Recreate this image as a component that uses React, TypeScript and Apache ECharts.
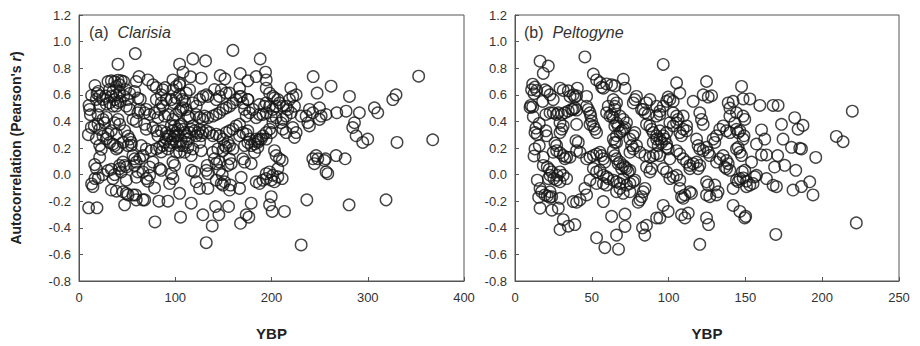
import React, { useEffect, useRef } from "react";
import * as echarts from "echarts";

// Panel (a) Clarisia: [YBP, Pearson's r]
const clarisiaPoints: number[][] = [
  [10,-0.25],[18.7,-0.25],[13.1,-0.07],[14.5,-0.09],[16.6,-0.03],[18,0.045],[16.3,0.075],[11.1,0.49],[11.8,0.45],[10.4,0.52],[9.7,0.30],[12.8,0.355],[15.9,0.365],[19.7,0.38],[21.5,0.34],[18,0.27],[21.5,0.22],[23.2,0.19],[21.5,0.13],[24.9,0.0],[20.1,-0.025],[16.6,0.67],[13.1,0.595],[18.7,0.61],[21.5,0.59],[20.1,0.625],[18,0.565],[24.9,0.565],[28.4,0.53],[27.7,0.59],[21.5,0.515],[19.7,0.45],[24.9,0.415],[28.4,0.43],[26.6,0.39],[30.1,0.305],[28.4,0.27],[31.8,0.24],[24.9,0.29],
  [30.1,0.70],[33.6,0.705],[37,0.70],[40.5,0.71],[43.9,0.705],[46.4,0.70],[42.2,0.675],[38.8,0.663],[31.8,0.64],[35.3,0.625],[38.8,0.60],[42.2,0.613],[33.6,0.588],[37,0.564],[40.5,0.54],[35.3,0.515],[31.8,0.54],[38.8,0.515],[42.9,0.55],[46.4,0.59],[50.9,0.565],[48.4,0.64],[52.6,0.61],[58.5,0.91],[40.5,0.83],[59.5,0.70],[62.3,0.737],[57.8,0.625],[61.2,0.575],[63.7,0.565],[49.1,0.515],[52.6,0.49],[37,0.39],[40.5,0.415],[42.2,0.378],[33.6,0.33],[38.8,0.305],[47.4,0.33],[50.9,0.29],[52.6,0.267],[37,0.218],[40.5,0.205],[38.8,0.193],[35.3,0.23],[45.7,0.242],[50.9,0.218],[54.3,0.242],[54.3,0.22],[56.1,0.143],[57.8,0.119],[42.2,0.045],[43.9,0.02],[37,0.0],[33.6,0.04],[30.1,0.03],[47.4,0.069],[49.1,0.057],[42.2,0.069],[45.7,0.094],[35.3,-0.03],[49.1,-0.042],[33.6,-0.116],[38.8,-0.125],[45.7,-0.129],[49.1,-0.141],[50.9,-0.153],[47.4,-0.227],[56.1,-0.153],[59.5,-0.19],[58.8,-0.153],[59.5,-0.02],[61.2,0.02],[57.8,0.069],[59.5,0.094],[56.1,0.415],[59.5,0.40],[61.2,0.465],[63,0.49],
  [66.4,-0.19],[68.2,-0.19],[78.9,-0.356],[83,-0.2],[92.4,-0.2],[78.5,-0.10],[69.9,-0.03],[71.6,-0.05],[73.4,-0.005],[85.5,0.032],[83.7,0.045],[66.4,0.02],[73.4,0.057],[76.8,0.094],[75.1,0.18],[66.4,0.143],[63,0.119],[64.7,0.218],[69.9,0.193],[80.3,0.193],[83.7,0.205],[87.2,0.218],[85.5,0.17],[88.9,0.242],[90.7,0.267],[92.4,0.292],[68.2,0.378],[69.9,0.341],[76.8,0.354],[80.3,0.329],[78.5,0.465],[73.4,0.452],[69.9,0.49],[68.2,0.465],[83.7,0.49],[87.2,0.514],[85.5,0.539],[82,0.428],[88.9,0.44],[92.4,0.452],[80.3,0.564],[85.5,0.60],[87.2,0.638],[71.6,0.712],[80.3,0.655],[76.8,0.675],[89.6,0.655],[90.7,0.564],[85.5,0.329],[82,0.292],
  [94.1,-0.067],[97.6,-0.03],[95.8,0.007],[97.6,0.094],[99.3,0.069],[104.5,-0.141],[105.5,-0.32],[116.6,-0.215],[128.7,-0.302],[132.2,-0.512],[133.9,-0.104],[132.2,0.032],[133.2,0.069],[133.9,0.007],[125.3,-0.104],[121.8,-0.054],[120.1,0.02],[116.6,0.032],[127,0.18],[116.6,0.143],[118.3,0.193],
  [92.4,0.193],[94.1,0.218],[95.8,0.242],[97.6,0.267],[99.3,0.292],[101,0.316],[102.8,0.341],[104.5,0.366],[106.2,0.378],[108,0.341],[109.7,0.316],[111.4,0.292],[97.6,0.329],[95.8,0.366],[99.3,0.366],[101,0.242],[104.5,0.218],[106.2,0.255],[108,0.218],[111.4,0.242],[113.1,0.267],[114.9,0.316],[116.6,0.341],[118.3,0.366],[120.1,0.329],[121.8,0.292],[123.5,0.316],[125.3,0.341],[113.1,0.205],[104.5,0.168],[109.7,0.168],[101,0.168],[94.1,0.292],[90.7,0.316],[102.8,0.292],
  [97.6,0.415],[101,0.452],[104.5,0.477],[106.2,0.49],[108,0.502],[95.8,0.564],[99.3,0.539],[101,0.576],[104.5,0.60],[107.3,0.564],[109.7,0.551],[97.6,0.638],[101,0.663],[104.5,0.688],[111.4,0.613],[114.9,0.638],[118.3,0.539],[121.8,0.514],[125.3,0.564],[128.7,0.588],[132.2,0.60],[111.4,0.49],[113.1,0.44],[114.9,0.428],[121.8,0.452],[125.3,0.428],[128.7,0.415],[130.4,0.44],[127,0.292],[128.7,0.316],[132.2,0.329],[125.3,0.242],
  [104.5,0.83],[108,0.77],[118.3,0.87],[131.5,0.855],[127,0.725],[115.9,0.735],[97.6,0.712],[104.5,0.675],
  [138.4,-0.386],[141.9,-0.24],[145.3,-0.302],[155.4,-0.24],[167.8,-0.366],[173.7,-0.302],[176.5,-0.32],[178.9,-0.215],[142.6,-0.042],[147.8,-0.067],[149.5,-0.079],[151.2,-0.054],[156.4,-0.116],[157.4,-0.079],[166.8,-0.104],[168.5,-0.02],[148.8,0.0],[146,0.032],[142.6,0.082],[146,0.094],[140.8,0.119],[156.4,0.119],[158.1,0.082],[154.7,0.069],[170.2,0.119],[172,0.094],[178.9,0.082],[139.1,0.168],[144.3,0.193],[149.5,0.18],[152.9,0.205],[156.4,0.218],[159.9,0.193],[146,0.292],[149.5,0.267],[152.9,0.316],[156.4,0.329],[159.9,0.341],[163.3,0.366],[166.8,0.378],[154.7,0.242],[151.2,0.218],[135.6,0.316],[139.1,0.292],[142.6,0.304],[133.9,0.428],[139.1,0.44],[142.6,0.452],[146,0.465],[149.5,0.49],[152.9,0.502],[156.4,0.514],[159.9,0.539],[163.3,0.564],[142.6,0.564],[146,0.588],[147.8,0.638],[152.9,0.613],[166.8,0.65],[168.5,0.588],[170.2,0.539],[172,0.49],[173.7,0.44],[175.4,0.564],[177.2,0.465],[180.6,0.49],[184.1,0.428],[187.5,0.452],[166.8,0.292],[170.2,0.316],[173.7,0.304],[175.4,0.329],[177.2,0.267],[172,0.218],[175.4,0.242],[178.9,0.218],[182.4,0.23],[185.8,0.255],[189.3,0.267],[182.4,0.168],[185.8,0.205],
  [159.9,0.934],[167.5,0.76],[146.7,0.745],[151.6,0.72],[175.4,0.705],[184.1,0.737],[156.4,0.613],[166.8,0.588],[175.4,0.564],[133.9,0.588],[140.8,0.64],
  [188.2,0.87],[193.8,0.77],[194.5,0.712],[194.5,0.65],[198,0.613],[201.4,0.588],[203.1,0.576],[206.6,0.564],[208.3,0.539],[211.8,0.514],[215.2,0.514],[217,0.49],[204.8,0.514],[201.4,0.49],[198,0.514],[194.5,0.539],[192.7,0.514],[187.5,0.527],[220.1,0.65],[225.6,0.60],[222.1,0.588],[218.7,0.564],[223.9,0.514],[220.4,0.465],[215.2,0.44],[211.8,0.415],[210,0.39],[222.1,0.354],[225.6,0.316],[223.9,0.28],[215.2,0.316],[211.8,0.341],[191,0.452],[194.5,0.465],[199.7,0.44],[204.8,0.428],[201.4,0.39],[198,0.341],[194.5,0.316],[191,0.292],[187.5,0.267],[194.5,0.267],[199.7,0.316],[184.1,0.267],[185.8,0.242],[203.1,0.18],[204.8,0.143],[208.3,0.119],[211.1,0.106],[206.6,0.045],[198,0.02],[194.5,0.007],[201.4,-0.005],[199.7,-0.042],[203.1,-0.054],[206.6,-0.017],[184.1,-0.054],[187.5,-0.067],[191,-0.042],[194.5,-0.03],[211.1,-0.03],[199.7,-0.166],[198,-0.227],[200.7,-0.277],[213.5,-0.277],[230.8,-0.529],
  [230.8,0.44],[236,0.44],[237.7,0.39],[239.4,0.366],[239.4,0.49],[242.9,0.465],[249.8,0.502],[247.4,0.613],[243.3,0.737],[249.8,0.415],[251.6,0.44],[256.7,0.452],[277.5,0.477],[267.8,0.465],[261.9,0.665],[281,0.588],[284.4,0.354],[286.2,0.39],[291.3,0.465],[287.9,0.292],[294.8,0.242],[300,0.267],[242.9,0.119],[246.4,0.143],[244.6,0.082],[248.1,0.119],[255,0.106],[256.1,0.119],[256.7,0.02],[258.5,0.007],[267.1,0.143],[276.5,0.119],[236.7,-0.19],[280.6,-0.227],[306.9,0.502],[310.4,0.465],[326,0.564],[329.4,0.60],[330.4,0.242],[319,-0.19],[352.9,0.74],[367.5,0.262]
];

// Panel (b) Peltogyne: [YBP, Pearson's r]
const peltogynePoints: number[][] = [
  [16.3,0.853],[21.7,0.816],[18.4,0.761],[11.5,0.68],[13,0.658],[10.8,0.638],[14.1,0.633],[12.4,0.608],[10.3,0.52],[11.5,0.509],[9.8,0.505],[18,0.55],[11.9,0.435],[13.6,0.35],[15.8,0.385],[13,0.316],[14.5,0.30],[19.5,0.638],[21,0.625],[22.8,0.60],[24.9,0.564],[20.1,0.452],[22.8,0.465],[24.9,0.465],[27.1,0.452],[20.1,0.329],[20.6,0.292],[13,0.193],[12.4,0.14],[15.8,0.218],[18.4,0.131],[18.4,0.069],[21,0.057],[14.5,-0.042],[16.3,-0.104],[17.3,-0.129],[19.5,-0.153],[21,-0.161],[22.8,-0.171],[15.4,-0.171],[16.3,-0.252],[24,-0.267],[23.9,-0.166],[22.8,-0.129],[21.7,-0.03],[22.8,-0.005],[23.9,0.02],[22.3,0.04],[25.3,-0.03],[27.1,-0.042],[29.3,-0.054],[27.5,-0.005],[29.3,0.02],[31.4,-0.005],[33.6,-0.03],
  [27.1,0.18],[24.9,0.168],[29.3,0.163],[31.4,0.143],[33.6,0.131],[32.5,0.119],[35.8,0.131],[26,0.237],[27.1,0.218],[29.3,0.316],[30.4,0.341],[31.4,0.366],[29.3,0.39],[28.2,0.465],[30.4,0.452],[32.5,0.465],[34.7,0.477],[36.9,0.49],[37.9,0.49],[39,0.502],[40.1,0.485],[29.3,0.65],[31.4,0.633],[34.7,0.63],[35.8,0.588],[37.9,0.60],[39,0.583],[40.1,0.593],[40.6,0.65],[46.6,0.588],[45.5,0.885],[51,0.756],[53.1,0.712],[55.3,0.692],[57.5,0.65],[56.4,0.658],[59.6,0.682],[62.9,0.675],[65,0.667],[70.5,0.717],[71.6,0.65],
  [40.1,0.378],[41.2,0.242],[39.7,0.255],[40.1,0.18],[42.3,0.168],[46.6,0.514],[47.7,0.49],[48.8,0.465],[49.3,0.44],[49.9,0.403],[48.8,0.378],[51,0.366],[52,0.341],[53.1,0.316],[46.6,0.119],[48.8,0.131],[51,0.143],[53.1,0.155],[55.3,0.168],[56.4,0.143],[57.5,0.119],[58.5,0.094],[51,0.045],[53.1,0.02],[55.3,0.032],[57.5,-0.005],[59.6,-0.017],[60.7,-0.03],[48.8,-0.042],[53.1,-0.067],[57.5,-0.067],[59.6,-0.079],
  [29.3,-0.178],[28.2,-0.252],[29.3,-0.413],[31.4,-0.339],[34.7,-0.388],[39,-0.376],[37.9,-0.203],[40.1,-0.208],[42.3,-0.19],[46.6,-0.153],[45.5,-0.104],[53.1,-0.475],[57.5,-0.203],[58.5,-0.549],[62.9,-0.314],[66.1,-0.455],[67.4,-0.561],[71.6,-0.297],[71.6,-0.39],
  [59.6,0.465],[61.8,0.44],[62.9,0.452],[64,0.428],[60.7,0.514],[65,0.49],[64,0.564],[66.1,0.539],[65,0.514],[64,0.267],[65,0.242],[66.1,0.292],[68.3,0.316],[70.5,0.341],[71.6,0.354],[72.6,0.39],[70.5,0.415],[68.3,0.44],[66.1,0.39],[67.2,0.366],[69.4,0.329],[65,0.366],[66.1,0.242],
  [64,0.18],[65,0.143],[66.1,0.119],[68.3,0.094],[70.5,0.069],[72.6,0.045],[73.7,0.02],[74.8,0.032],[67.2,0.082],[69.4,0.045],[71.6,0.057],
  [64,-0.042],[66.1,-0.054],[68.3,-0.067],[70.5,-0.03],[72.6,-0.079],[74.8,-0.067],[77,-0.054],[78,-0.042],[66.1,-0.129],[68.3,-0.104],[70.5,-0.141],[74.8,-0.129],
  [77,0.539],[78,0.564],[79.1,0.588],[74.8,0.267],[77,0.292],[78,0.316],[75.9,0.218],[74.8,0.168],[77,0.193],[79.1,0.218],
  [81.3,-0.19],[82.4,-0.166],[83.5,-0.129],[84.6,-0.104],[80.2,-0.208],[83,-0.40],[85.6,-0.381],[84.5,-0.455],[92.2,-0.326],[94.3,-0.326],[96.5,-0.232],[99.7,-0.277],
  [96.5,0.828],[105.2,0.69],[107.3,0.613],[99.7,0.583],[103,0.551],[100.8,0.564],
  [87.8,0.564],[85.6,0.539],[83.5,0.49],[82.4,0.49],[84.6,0.465],[86.7,0.452],[85.6,0.378],[87.8,0.366],[88.9,0.341],[90,0.316],[92.2,0.292],[94.3,0.267],[96.5,0.292],[94.3,0.329],[98.7,0.316],[97.6,0.267],[98.7,0.23],[95.4,0.242],[92.2,0.267],[90,0.242],[93.2,0.218],
  [92.2,0.514],[94.3,0.477],[96.5,0.514],[98.7,0.551],[92.2,0.44],[94.3,0.452],
  [81.3,0.168],[84.6,0.143],[87.8,0.131],[90,0.143],[92.2,0.155],[94.3,0.143],[98.7,0.205],[99.7,0.193],
  [85.6,0.057],[88.9,0.045],[87.8,0.02],[96.5,0.045],[98.7,0.02],[100.8,-0.03],[103,-0.017],[105.2,-0.005],[107.3,-0.042],[100.8,0.119],
  [103,0.465],[105.2,0.44],[106.2,0.415],[105.2,0.39],[103,0.366],[100.8,0.39],
  [107.3,0.316],[108.4,0.292],[109.5,0.341],[111.7,0.329],[109.5,0.44],[111.7,0.366],
  [105.2,0.18],[107.3,0.155],[109.5,0.119],[111.7,0.094],[113.8,0.069],[116,0.082],[118.2,0.094],[120.3,0.069],[119.2,0.045],[113.8,0.045],
  [107.3,-0.104],[108.4,-0.166],[109.5,-0.178],[110.6,-0.153],[113.8,-0.129],[114.9,-0.141],[108.4,-0.302],[110.6,-0.326],[112.8,-0.289],[120.3,-0.524],
  [116,0.551],[120.3,0.465],[121.4,0.415],[122.5,0.378],[122.5,0.60],[124.7,0.70],[125.8,0.583],[128,0.593],
  [118.2,0.267],[119.2,0.218],[120.3,0.193],[122.5,0.18],[124.7,0.205],[125.8,0.168],[126.8,0.143],
  [124.7,-0.054],[125.8,-0.079],[124.7,-0.153],[126.8,-0.166],[131.2,-0.153],[132.2,-0.129],[130.1,-0.079],[124.7,-0.326],[126,-0.376],
  [129,0.267],[131.2,0.292],[130.1,0.242],[133.3,0.341],[135.5,0.366],[137.7,0.329],[139.9,0.316],[139.9,0.44],[138.8,0.539],[142,0.551],[139.9,0.50],
  [133.3,0.119],[135.5,0.143],[137.7,0.106],[138.8,0.082],[139.9,0.032],[137.7,0.045],[136.6,0.057],[131.2,0.094],
  [143.1,0.39],[144.2,0.341],[145.3,0.316],[146.4,0.329],[144.2,0.465],
  [144.2,0.193],[145.3,0.205],[146.4,0.168],[147.5,0.143],
  [142,-0.104],[144.2,-0.042],[145.3,-0.054],[146.4,-0.03],[148,0.02],[149.6,0.032],[148.5,-0.025],
  [142,-0.232],[146.4,-0.277],[149.6,-0.326],[150.2,-0.314],
  [147.5,0.663],[148.5,0.569],[152.9,0.569],[148.5,0.44],[149.6,0.415],[149.1,0.292],[148.5,0.267],
  [150.7,-0.05],[150.7,-0.091],[152.9,-0.079],[155,-0.067],[156.1,-0.017],[157.2,-0.005],[154,0.094],
  [159.4,0.52],[160.5,0.336],[162.6,0.267],[157.2,0.23],[160.5,0.148],[163.7,0.148],[163.7,-0.03],[168,-0.08],[170.2,-0.091],[169,0.057],[171,0.143],[168,0.52],[171.3,0.52],[173.5,0.378],[174.5,0.267],[175.6,0.07],[169.8,-0.45],[180,0.205],[181,-0.116],[182.1,0.428],[184.3,0.341],[187.5,0.37],[185.4,0.198],[186.5,0.193],[182.8,0.032],[186.5,-0.09],[191.9,-0.054],[194,-0.153],[195.8,0.129],[209.2,0.287],[213.6,0.247],[219.6,0.477],[222.2,-0.363]
];

const yTicks = { min: -0.8, max: 1.2, interval: 0.2 };
const xTicksA = { min: 0, max: 400, interval: 100 };
const xTicksB = { min: 0, max: 250, interval: 50 };
const panelLabels = [
  { tag: "(a)", genus: "Clarisia" },
  { tag: "(b)", genus: "Peltogyne" },
];

const FONT = "'Liberation Sans', Arial, Helvetica, sans-serif";
const AXIS_COLOR = "#555";
const TEXT_COLOR = "#333";

export default function App() {
  const ref = useRef<HTMLDivElement>(null);

  useEffect(() => {
    document.body.style.margin = "0";
    if (!ref.current) return;
    const chart = echarts.init(ref.current, undefined, { renderer: "svg" });

    const axisCommon = {
      axisLine: { show: true, onZero: false, lineStyle: { color: AXIS_COLOR, width: 1 } },
      axisTick: { show: true, inside: true, length: 4, lineStyle: { color: AXIS_COLOR, width: 1 } },
      splitLine: { show: false },
      axisLabel: { color: TEXT_COLOR, fontSize: 13, fontFamily: FONT },
    };

    const xAxis = (idx: number, t: { min: number; max: number; interval: number }, showName: boolean) => ({
      type: "value",
      gridIndex: idx,
      min: t.min,
      max: t.max,
      interval: t.interval,
      ...axisCommon,
      axisLabel: { ...axisCommon.axisLabel, margin: 10 },
      name: showName ? "YBP" : "",
      nameLocation: "middle",
      nameGap: 45,
      nameTextStyle: { fontWeight: "bold", fontSize: 15, color: "#222", fontFamily: FONT },
    });

    const yAxis = (idx: number, showName: boolean) => ({
      type: "value",
      gridIndex: idx,
      min: yTicks.min,
      max: yTicks.max,
      interval: yTicks.interval,
      ...axisCommon,
      axisLabel: {
        ...axisCommon.axisLabel,
        margin: 8,
        formatter: (v: number) => v.toFixed(1),
      },
      name: showName ? "Autocorrelation (Pearson's {i|r})" : "",
      nameLocation: "middle",
      nameRotate: 90,
      nameGap: 56,
      nameTextStyle: {
        fontWeight: "bold",
        fontSize: 14,
        color: "#222",
        fontFamily: FONT,
        rich: {
          i: { fontWeight: "bold", fontStyle: "italic", fontSize: 14, color: "#222", fontFamily: FONT },
        },
      },
    });

    const scatter = (idx: number, data: number[][]) => ({
      type: "scatter",
      xAxisIndex: idx,
      yAxisIndex: idx,
      data,
      symbol: "circle",
      symbolSize: 11.5,
      itemStyle: { color: "rgba(0,0,0,0)", borderColor: "#151515", borderWidth: 1.4 },
      emphasis: { disabled: true },
    });

    const labelText = (x: number, p: { tag: string; genus: string }) => ({
      type: "text",
      left: x,
      top: 24,
      style: {
        text: `${p.tag}  {g|${p.genus}}`,
        fill: TEXT_COLOR,
        fontSize: 16,
        fontFamily: FONT,
        rich: { g: { fontStyle: "italic", fontSize: 16, fill: TEXT_COLOR, fontFamily: FONT } },
      },
    });

    chart.setOption({
      animation: false,
      backgroundColor: "#fff",
      grid: [
        { left: 79, top: 15, width: 385, height: 269, show: true, borderColor: AXIS_COLOR, borderWidth: 1, backgroundColor: "transparent" },
        { left: 515, top: 15, width: 384, height: 269, show: true, borderColor: AXIS_COLOR, borderWidth: 1, backgroundColor: "transparent" },
      ],
      xAxis: [xAxis(0, xTicksA, true), xAxis(1, xTicksB, true)],
      yAxis: [yAxis(0, true), yAxis(1, false)],
      series: [scatter(0, clarisiaPoints), scatter(1, peltogynePoints)],
      graphic: [labelText(89, panelLabels[0]), labelText(524, panelLabels[1])],
    });

    return () => chart.dispose();
  }, []);

  return <div ref={ref} style={{ width: 920, height: 346 }} />;
}
